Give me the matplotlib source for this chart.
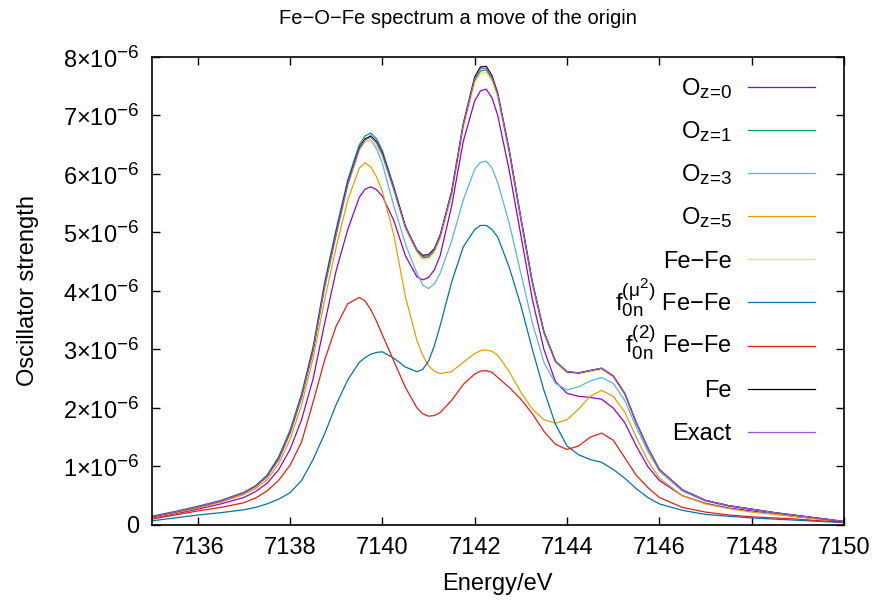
import matplotlib
matplotlib.use("Agg")
import matplotlib.pyplot as plt
import matplotlib._mathtext as mathtext
from matplotlib.ticker import FuncFormatter

plt.rcParams['font.family'] = ['Liberation Sans', 'DejaVu Sans']
plt.rcParams['mathtext.fontset'] = 'custom'
plt.rcParams['mathtext.rm'] = 'Liberation Sans'
plt.rcParams['mathtext.it'] = 'Liberation Sans:italic'
plt.rcParams['mathtext.bf'] = 'Liberation Sans:bold'
# gnuplot draws sub/superscripts a bit larger than mathtext does
mathtext.SHRINK_FACTOR = 0.8

# energy grid (eV) and oscillator strengths (units of 1e-6)
energy = [7135, 7135.5, 7136, 7136.5, 7137, 7137.25, 7137.5, 7137.75, 7138, 7138.25,
          7138.5, 7138.75, 7139, 7139.25, 7139.5, 7139.625, 7139.75, 7139.875, 7140, 7140.25,
          7140.5, 7140.75, 7140.875, 7141, 7141.125, 7141.25, 7141.5, 7141.75, 7142, 7142.125,
          7142.25, 7142.375, 7142.5, 7142.75, 7143, 7143.25, 7143.5, 7143.75, 7144, 7144.25,
          7144.5, 7144.75, 7145, 7145.25, 7145.5, 7145.75, 7146, 7146.5, 7147, 7147.5,
          7148, 7148.5, 7149, 7149.5, 7150]

oz0 = [0.12, 0.19, 0.27, 0.36, 0.47, 0.57, 0.71, 0.94, 1.29, 1.80,
       2.50, 3.45, 4.35, 5.05, 5.60, 5.74, 5.78, 5.73, 5.62, 5.20,
       4.60, 4.24, 4.19, 4.23, 4.36, 4.60, 5.45, 6.55, 7.25, 7.42,
       7.45, 7.30, 7.00, 6.05, 4.95, 3.85, 3.00, 2.45, 2.25, 2.20,
       2.18, 2.15, 2.00, 1.75, 1.35, 1.00, 0.76, 0.50, 0.37, 0.29,
       0.24, 0.19, 0.14, 0.10, 0.06]

oz1 = [0.15, 0.23, 0.32, 0.42, 0.56, 0.67, 0.85, 1.16, 1.62, 2.24,
       3.05, 4.15, 5.06, 5.90, 6.50, 6.65, 6.70, 6.60, 6.40, 5.78,
       5.10, 4.68, 4.57, 4.58, 4.68, 4.90, 5.65, 6.80, 7.60, 7.76,
       7.78, 7.62, 7.33, 6.36, 5.22, 4.12, 3.28, 2.79, 2.61, 2.59,
       2.63, 2.67, 2.54, 2.24, 1.74, 1.31, 0.94, 0.60, 0.42, 0.33,
       0.27, 0.21, 0.16, 0.11, 0.06]

oz3 = [0.14, 0.22, 0.31, 0.41, 0.55, 0.65, 0.82, 1.11, 1.56, 2.18,
       2.98, 4.06, 4.96, 5.80, 6.40, 6.55, 6.58, 6.43, 6.18, 5.45,
       4.80, 4.30, 4.10, 4.04, 4.12, 4.30, 4.85, 5.55, 6.08, 6.20,
       6.22, 6.10, 5.85, 5.15, 4.30, 3.45, 2.78, 2.42, 2.31, 2.36,
       2.46, 2.52, 2.42, 2.13, 1.67, 1.26, 0.92, 0.58, 0.41, 0.32,
       0.26, 0.20, 0.15, 0.11, 0.06]

oz5 = [0.13, 0.20, 0.29, 0.39, 0.52, 0.62, 0.77, 1.04, 1.46, 2.05,
       2.85, 3.85, 4.75, 5.55, 6.10, 6.19, 6.12, 5.95, 5.70, 4.95,
       3.90, 3.15, 2.90, 2.72, 2.63, 2.59, 2.62, 2.78, 2.93, 2.98,
       2.99, 2.97, 2.90, 2.62, 2.27, 1.98, 1.80, 1.74, 1.80, 1.98,
       2.20, 2.30, 2.20, 1.93, 1.50, 1.10, 0.80, 0.50, 0.36, 0.28,
       0.22, 0.18, 0.14, 0.10, 0.06]

fefe = [0.14, 0.22, 0.31, 0.41, 0.55, 0.65, 0.82, 1.11, 1.56, 2.17,
        2.96, 4.05, 4.95, 5.80, 6.40, 6.55, 6.59, 6.48, 6.30, 5.70,
        5.05, 4.65, 4.54, 4.55, 4.65, 4.88, 5.62, 6.76, 7.55, 7.72,
        7.74, 7.58, 7.31, 6.35, 5.20, 4.10, 3.27, 2.78, 2.60, 2.58,
        2.62, 2.66, 2.53, 2.23, 1.74, 1.31, 0.94, 0.60, 0.42, 0.33,
        0.27, 0.21, 0.16, 0.11, 0.06]

f_mu2 = [0.07, 0.12, 0.17, 0.21, 0.26, 0.30, 0.36, 0.44, 0.55, 0.76,
         1.12, 1.56, 2.06, 2.48, 2.78, 2.86, 2.92, 2.95, 2.96, 2.85,
         2.70, 2.62, 2.66, 2.80, 3.06, 3.40, 4.15, 4.75, 5.05, 5.12,
         5.12, 5.05, 4.92, 4.40, 3.75, 3.00, 2.30, 1.72, 1.35, 1.20,
         1.12, 1.07, 0.95, 0.80, 0.62, 0.47, 0.36, 0.25, 0.18, 0.15,
         0.12, 0.10, 0.08, 0.06, 0.04]

f_2 = [0.10, 0.17, 0.24, 0.30, 0.38, 0.46, 0.58, 0.76, 1.02, 1.42,
       2.10, 2.82, 3.40, 3.78, 3.89, 3.83, 3.68, 3.48, 3.25, 2.80,
       2.35, 2.00, 1.90, 1.86, 1.87, 1.92, 2.13, 2.40, 2.58, 2.63,
       2.64, 2.61, 2.52, 2.35, 2.15, 1.90, 1.60, 1.38, 1.29, 1.35,
       1.50, 1.57, 1.45, 1.15, 0.85, 0.64, 0.47, 0.30, 0.22, 0.17,
       0.14, 0.12, 0.10, 0.07, 0.05]

fe = [0.14, 0.22, 0.31, 0.41, 0.55, 0.66, 0.83, 1.13, 1.58, 2.20,
      3.00, 4.10, 5.00, 5.85, 6.45, 6.60, 6.65, 6.55, 6.35, 5.75,
      5.10, 4.70, 4.61, 4.62, 4.72, 4.95, 5.70, 6.85, 7.66, 7.83,
      7.84, 7.68, 7.38, 6.40, 5.25, 4.15, 3.30, 2.80, 2.62, 2.60,
      2.64, 2.68, 2.55, 2.25, 1.75, 1.32, 0.95, 0.60, 0.42, 0.33,
      0.27, 0.21, 0.16, 0.11, 0.06]

exact = [0.14, 0.22, 0.31, 0.41, 0.55, 0.66, 0.83, 1.12, 1.58, 2.19,
         2.99, 4.08, 4.98, 5.83, 6.43, 6.58, 6.63, 6.53, 6.33, 5.74,
         5.09, 4.69, 4.59, 4.60, 4.70, 4.93, 5.68, 6.83, 7.63, 7.80,
         7.81, 7.65, 7.36, 6.39, 5.24, 4.14, 3.30, 2.80, 2.62, 2.60,
         2.64, 2.68, 2.55, 2.25, 1.75, 1.32, 0.95, 0.60, 0.42, 0.33,
         0.27, 0.21, 0.16, 0.11, 0.06]

labels = ['O$_{\\text{z=0}}$', 'O$_{\\text{z=1}}$', 'O$_{\\text{z=3}}$', 'O$_{\\text{z=5}}$',
          'Fe\u2212Fe', '$\\rm f_{0n}^{(\\mu^2)}$ Fe\u2212Fe',
          '$\\rm f_{0n}^{(2)}$ Fe\u2212Fe', 'Fe', 'Exact']
series = [oz0, oz1, oz3, oz5, fefe, f_mu2, f_2, fe, exact]
colors = ['#9400d3', '#009e73', '#56b4e9', '#e69f00', '#f0e442',
          '#0072b2', '#e51e10', '#000000', '#a850e0']

fs = 17

fig = plt.figure(figsize=(8.78, 6.01), dpi=100)
ax = fig.add_axes([0.1726, 0.1265, 0.7887, 0.7787])

scale = 1e-6
for i, (ys, col, lab) in enumerate(zip(series, colors, labels)):
    ax.plot(energy, [v * scale for v in ys], color=col, lw=0.9)
    # gnuplot-style key: right aligned text, sample line to the right
    yk = 0.936 - i * 0.0921
    ax.plot([0.861, 0.958], [yk, yk], color=col, lw=0.9, transform=ax.transAxes,
            clip_on=False)
    ax.text(0.838, yk - 0.0175, lab, transform=ax.transAxes, ha='right',
            va='baseline', fontsize=fs)

ax.set_xlim(7135, 7150)
ax.set_ylim(0, 8e-6)
ax.set_xticks(range(7136, 7151, 2))
ax.set_yticks([k * 1e-6 for k in range(9)])


def yfmt(v, pos):
    k = int(round(v / 1e-6))
    if k == 0:
        return '0'
    return '$%d{\\times}10^{-6}$' % k


ax.yaxis.set_major_formatter(FuncFormatter(yfmt))
ax.tick_params(direction='in', length=6, width=1, top=True, right=True,
               labelsize=fs)
ax.tick_params(axis='y', pad=9)
ax.tick_params(axis='x', pad=9)
for s in ax.spines.values():
    s.set_linewidth(1.2)

ax.set_xlabel('Energy/eV', fontsize=fs, labelpad=10)
ax.set_ylabel('Oscillator strength', fontsize=fs, labelpad=17)
fig.text(0.5216, 1 - 18 / 601, 'Fe\u2212O\u2212Fe spectrum a move of the origin',
         fontsize=14.5, ha='center', va='center')

fig.savefig('out.png', dpi=100)
